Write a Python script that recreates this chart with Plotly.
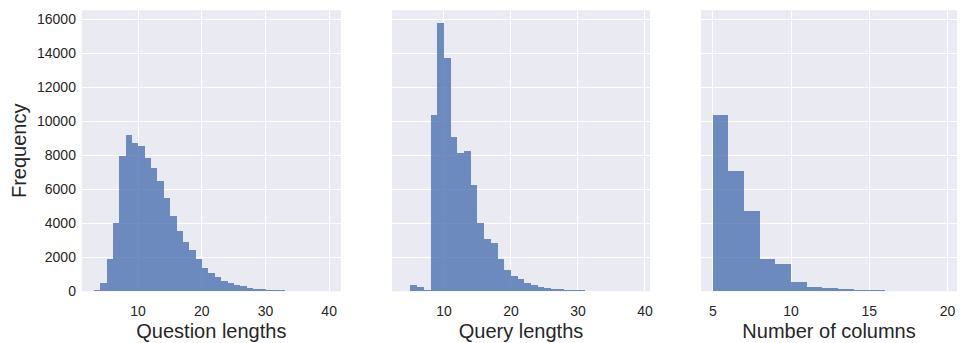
import plotly.graph_objects as go

# Question lengths: bin starts (width 1) and counts
q_bins = list(range(3, 40))
q_counts = [80, 450, 1860, 3980, 7940, 9180, 8700, 8500, 7800, 7230, 6480, 5470,
            4400, 3510, 2880, 2400, 1900, 1380, 1050, 800, 590, 490, 370, 280,
            210, 150, 115, 80, 60, 45, 30, 20, 15, 10, 8, 5, 4]

# Query lengths
s_bins = list(range(4, 39))
s_counts = [10, 360, 240, 40, 10330, 15730, 13670, 9040, 8130, 8210, 6220, 4020,
            3070, 2840, 1860, 1250, 900, 716, 460, 355, 260, 200, 145, 115,
            80, 60, 45, 30, 20, 15, 10, 8, 5, 4, 3]

# Number of columns
c_bins = list(range(5, 20))
c_counts = [10330, 7040, 4690, 1860, 1580, 530, 260, 180, 110, 60, 40, 25, 15, 8, 5]

x_titles = ["Question lengths", "Query lengths", "Number of columns"]
y_title = "Frequency"
y_ticks = [0, 2000, 4000, 6000, 8000, 10000, 12000, 14000, 16000]
y_ticktext = [str(v) for v in y_ticks]
x_ticks = [[10, 20, 30, 40], [10, 20, 30, 40], [5, 10, 15, 20]]

BG = "#EAEAF2"
BAR = "rgba(76,114,176,0.8)"
TXT = "#262626"
FONT = "Liberation Sans, Arial, sans-serif"

W, H = 960, 343
y_dom = [1 - 298.3 / H, 1 - 10.5 / H]
x_doms = [[82 / W, 342 / W], [393.3 / W, 652 / W], [703.3 / W, 1.0]]
x_ranges = [[1.15, 41.85], [2.25, 40.75], [4.25, 4.25 + 256.7 / 15.7]]
y_max = max(q_counts + s_counts + c_counts) * 1.05

fig = go.Figure()
data = [(q_bins, q_counts), (s_bins, s_counts), (c_bins, c_counts)]
for i, (b, c) in enumerate(data):
    fig.add_trace(go.Bar(
        x=b, y=c, width=1, offset=0,
        marker=dict(color=BAR, line=dict(width=0)),
        xaxis="x" if i == 0 else f"x{i+1}",
        yaxis="y" if i == 0 else f"y{i+1}",
        showlegend=False, hoverinfo="skip",
    ))

layout = dict(
    width=W, height=H,
    margin=dict(l=0, r=0, t=0, b=0),
    paper_bgcolor="white",
    plot_bgcolor=BG,
    bargap=0,
    font=dict(family=FONT, color=TXT, size=14),
)
for i in range(3):
    xa = "xaxis" if i == 0 else f"xaxis{i+1}"
    ya = "yaxis" if i == 0 else f"yaxis{i+1}"
    anchor_y = "y" if i == 0 else f"y{i+1}"
    anchor_x = "x" if i == 0 else f"x{i+1}"
    layout[xa] = dict(
        domain=x_doms[i], anchor=anchor_y, range=x_ranges[i],
        tickvals=x_ticks[i], showgrid=True, gridcolor="white", gridwidth=1.3,
        zeroline=False, showline=False,
        ticks="outside", ticklen=7, tickcolor="rgba(0,0,0,0)",
        tickfont=dict(size=14, color=TXT),
        title=dict(text=x_titles[i], font=dict(size=20, color=TXT), standoff=5),
    )
    layout[ya] = dict(
        domain=y_dom, anchor=anchor_x, range=[0, y_max],
        tickvals=y_ticks, ticktext=y_ticktext,
        showgrid=True, gridcolor="white", gridwidth=1.3,
        zeroline=False, showline=False,
        showticklabels=(i == 0),
        ticks="outside", ticklen=2, tickcolor="rgba(0,0,0,0)",
        tickfont=dict(size=14, color=TXT),
    )
layout["yaxis"]["title"] = dict(text=y_title, font=dict(size=20, color=TXT), standoff=5)

fig.update_layout(**layout)
fig.write_html("out.html")
